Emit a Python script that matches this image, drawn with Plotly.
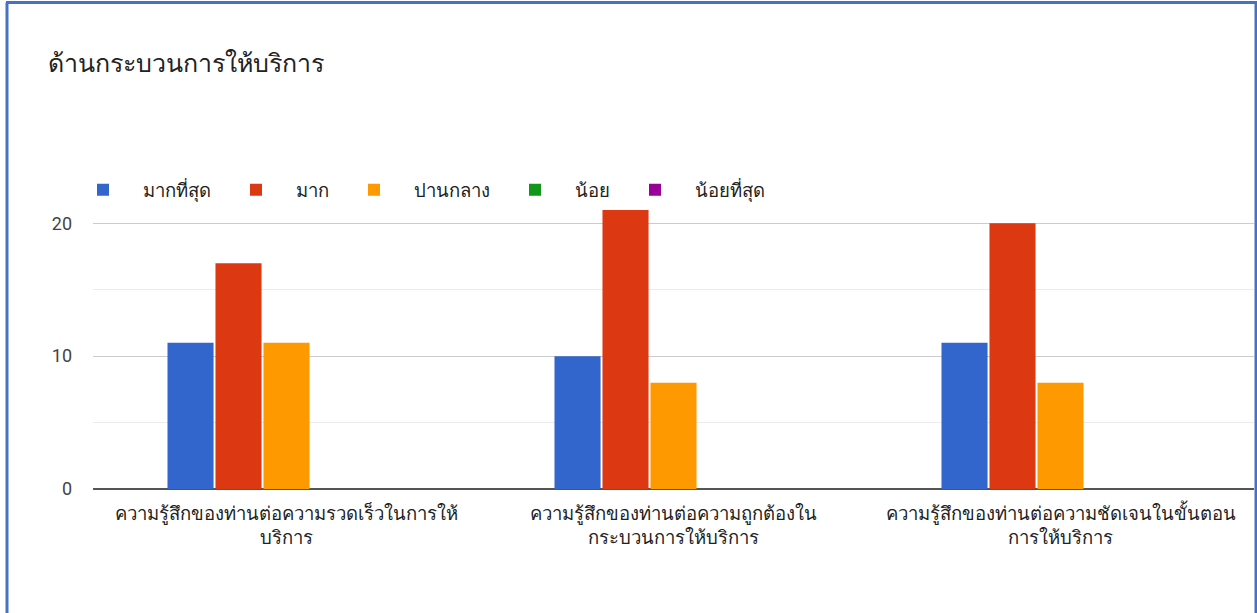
import plotly.graph_objects as go

categories = [
    "ความรู้สึกของท่านต่อความรวดเร็วในการให้บริการ",
    "ความรู้สึกของท่านต่อความถูกต้องในกระบวนการให้บริการ",
    "ความรู้สึกของท่านต่อความชัดเจนในขั้นตอนการให้บริการ",
]
tick_labels = [
    "ความรู้สึกของท่านต่อความรวดเร็วในการให้<br>บริการ",
    "ความรู้สึกของท่านต่อความถูกต้องใน<br>กระบวนการให้บริการ",
    "ความรู้สึกของท่านต่อความชัดเจนในขั้นตอน<br>การให้บริการ",
]
series_names = ["มากที่สุด", "มาก", "ปานกลาง", "น้อย", "น้อยที่สุด"]
v_most = [11, 10, 11]
v_much = [17, 21, 20]
v_medium = [11, 8, 8]
v_little = [0, 0, 0]
v_least = [0, 0, 0]
series_values = [v_most, v_much, v_medium, v_little, v_least]
colors = ["#3366CC", "#DC3912", "#FF9900", "#109618", "#990099"]

W, H = 1257, 613
L, R, B = 93, 3, 124
y_max = 21
px_per_unit = 13.3
plot_h = y_max * px_per_unit
T = H - B - plot_h
plot_w = W - L - R

font_family = "Roboto, Arial, 'Noto Sans', sans-serif"

fig = go.Figure()
for name, vals, col in zip(series_names, series_values, colors):
    fig.add_trace(go.Bar(
        x=categories, y=vals, name=name,
        marker=dict(color=col, line=dict(width=0)),
    ))

def px_x(p):
    return (p - L) / plot_w

def px_y(p):
    return (H - B - p) / plot_h

shapes = [
    # blue frame around the card
    dict(type="line", xref="paper", yref="paper", x0=px_x(7), x1=px_x(7), y0=px_y(620), y1=px_y(2),
         line=dict(color="#4472C4", width=3)),
    dict(type="line", xref="paper", yref="paper", x0=px_x(6), x1=px_x(1257), y0=px_y(2), y1=px_y(2),
         line=dict(color="#4472C4", width=3)),
    dict(type="line", xref="paper", yref="paper", x0=px_x(1256), x1=px_x(1256), y0=px_y(620), y1=px_y(2),
         line=dict(color="#4472C4", width=3)),
]

fig.update_layout(
    width=W, height=H,
    margin=dict(l=L, r=R, t=T, b=B, pad=0),
    paper_bgcolor="white", plot_bgcolor="white",
    font=dict(family=font_family, color="#222222"),
    title=dict(text="ด้านกระบวนการให้บริการ", x=48 / W, xanchor="left", xref="container",
               y=1 - 63 / H, yanchor="middle", yref="container",
               font=dict(size=25, color="#222222")),
    barmode="group", bargap=0.38, bargroupgap=0.04,
    showlegend=True,
    legend=dict(orientation="h", x=px_x(63), xanchor="left", y=px_y(190), yanchor="middle",
                font=dict(size=18.5, color="#222222"), traceorder="normal",
                itemwidth=70),
    shapes=shapes,
    xaxis=dict(type="category", tickvals=categories, ticktext=tick_labels,
               tickfont=dict(size=18.5, color="#222222"), showgrid=False,
               showline=False, ticks="", ticklabelstandoff=11, fixedrange=True),
    yaxis=dict(range=[0, y_max], dtick=10, tick0=0, showgrid=True, gridcolor="#cccccc", gridwidth=1,
               minor=dict(dtick=5, showgrid=True, gridcolor="#ebebeb", gridwidth=1),
               zeroline=True, zerolinecolor="#555555", zerolinewidth=2,
               tickfont=dict(size=18, color="#444444"), ticklabelstandoff=20, ticks="",
               showline=False, fixedrange=True),
)

fig.write_html("out.html")
